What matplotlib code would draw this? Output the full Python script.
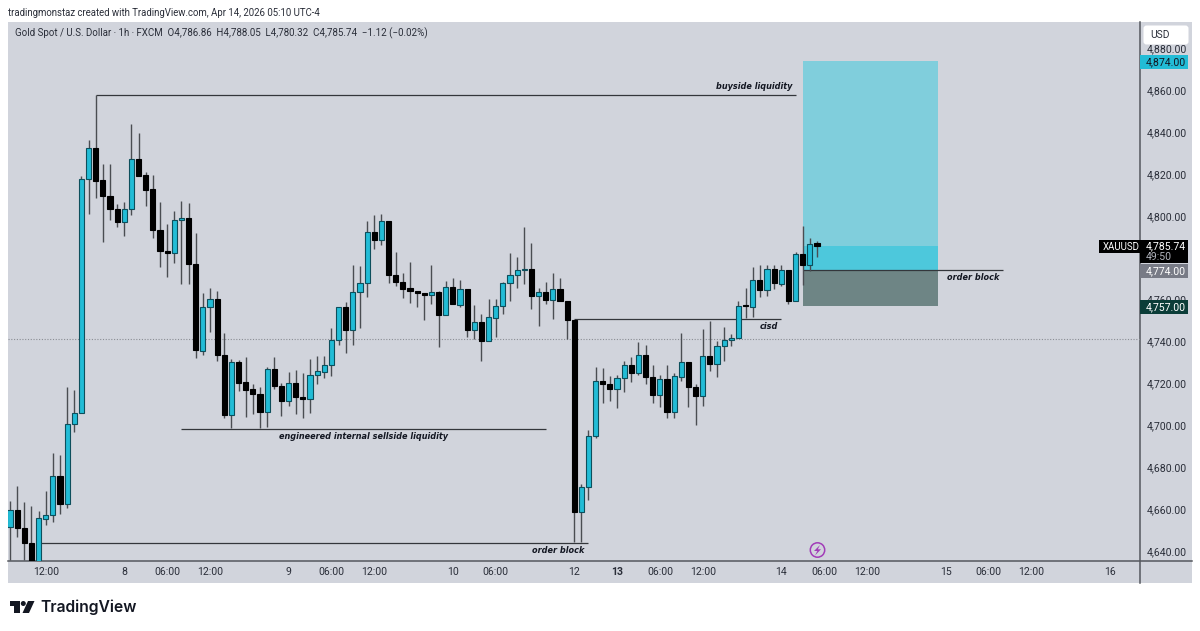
import matplotlib
matplotlib.use('Agg')
import matplotlib.pyplot as plt
from matplotlib.patches import Rectangle, Polygon, Circle, FancyBboxPatch

opens = [4651.5, 4659.6, 4651.0, 4643.8, 4633.3, 4655.3, 4657.2, 4675.8, 4662.4, 4700.6,
         4705.9, 4817.6, 4832.4, 4817.1, 4809.4, 4803.2, 4797.0, 4803.2, 4827.1, 4819.5,
         4812.8, 4793.2, 4783.2, 4782.2, 4798.0, 4799.0, 4777.0, 4735.5, 4756.5, 4760.3,
         4733.6, 4704.9, 4730.2, 4720.7, 4717.3, 4715.0, 4706.4, 4726.9, 4718.8, 4711.6,
         4720.2, 4713.5, 4712.6, 4724.0, 4725.4, 4728.8, 4740.7, 4756.5, 4745.5, 4763.6,
         4767.9, 4792.3, 4788.4, 4797.5, 4771.7, 4768.4, 4765.5, 4764.1, 4763.2, 4762.2,
         4763.6, 4752.6, 4766.0, 4757.4, 4765.1, 4745.5, 4749.3, 4740.2, 4751.2, 4757.0,
         4767.9, 4771.7, 4774.1, 4774.6, 4761.7, 4763.6, 4759.8, 4765.1, 4759.3, 4750.3,
         4658.6, 4670.6, 4694.9, 4721.1, 4719.7, 4717.3, 4722.6, 4728.8, 4725.0, 4733.6,
         4723.1, 4714.5, 4722.1, 4706.4, 4723.1, 4730.2, 4718.3, 4714.0, 4733.1, 4729.3,
         4737.9, 4740.7, 4741.7, 4757.4, 4756.5, 4769.4, 4764.6, 4774.6, 4767.4, 4774.1,
         4759.3, 4781.8, 4776.5, 4786.86]
highs = [4663.9, 4671.0, 4663.4, 4661.5, 4659.1, 4668.6, 4686.8, 4685.8, 4718.3, 4716.9,
         4819.0, 4836.2, 4857.7, 4824.7, 4824.7, 4805.6, 4806.6, 4843.8, 4839.5, 4820.9,
         4819.5, 4806.6, 4796.1, 4802.3, 4807.1, 4806.1, 4791.8, 4763.2, 4765.5, 4764.1,
         4744.1, 4731.6, 4731.2, 4732.6, 4719.7, 4718.3, 4727.8, 4732.6, 4720.2, 4725.4,
         4726.4, 4725.0, 4731.6, 4733.1, 4733.1, 4746.4, 4756.5, 4758.9, 4776.5, 4776.0,
         4797.5, 4800.4, 4800.9, 4797.5, 4782.7, 4772.7, 4778.0, 4764.1, 4763.2, 4776.5,
         4764.1, 4768.9, 4770.3, 4769.4, 4765.1, 4757.4, 4753.1, 4760.3, 4760.3, 4768.4,
         4782.2, 4780.3, 4794.7, 4787.0, 4765.5, 4768.4, 4772.7, 4770.3, 4759.3, 4750.3,
         4672.0, 4697.8, 4727.8, 4727.4, 4723.5, 4724.0, 4730.7, 4732.6, 4739.8, 4738.3,
         4728.8, 4724.0, 4728.8, 4725.0, 4744.1, 4730.2, 4719.7, 4746.0, 4749.8, 4740.2,
         4746.9, 4743.6, 4759.3, 4765.5, 4775.6, 4776.5, 4776.5, 4776.5, 4776.5, 4774.1,
         4782.7, 4795.1, 4789.4, 4788.05]
lows = [4635.7, 4646.7, 4635.7, 4628.5, 4628.5, 4652.4, 4653.9, 4657.7, 4660.5, 4696.8,
        4705.9, 4800.9, 4808.5, 4787.5, 4798.0, 4794.7, 4790.4, 4800.4, 4819.0, 4804.7,
        4789.4, 4775.6, 4770.8, 4777.5, 4767.4, 4767.4, 4732.1, 4733.6, 4744.5, 4730.7,
        4703.5, 4698.7, 4716.4, 4704.0, 4705.4, 4698.7, 4699.2, 4717.3, 4704.4, 4709.2,
        4705.4, 4703.5, 4705.9, 4719.7, 4722.6, 4723.5, 4738.3, 4734.5, 4738.3, 4746.4,
        4761.2, 4784.2, 4786.1, 4767.9, 4766.5, 4760.8, 4758.4, 4756.5, 4750.3, 4757.9,
        4737.4, 4752.6, 4757.9, 4756.5, 4742.1, 4741.2, 4730.7, 4740.2, 4742.1, 4753.1,
        4759.3, 4765.5, 4767.4, 4755.5, 4747.4, 4757.9, 4750.7, 4759.3, 4741.2, 4644.3,
        4644.3, 4664.3, 4693.9, 4710.6, 4711.6, 4708.3, 4715.9, 4720.7, 4724.0, 4719.7,
        4710.6, 4708.7, 4703.5, 4703.5, 4721.1, 4708.7, 4700.1, 4709.2, 4725.9, 4723.1,
        4730.7, 4737.9, 4741.7, 4751.2, 4751.7, 4761.2, 4761.7, 4765.1, 4766.5, 4757.9,
        4759.3, 4767.0, 4773.6, 4780.32]
closes = [4659.6, 4651.0, 4643.8, 4630.9, 4655.8, 4657.2, 4675.8, 4662.4, 4700.6, 4705.9,
          4817.6, 4832.4, 4816.6, 4809.4, 4803.2, 4797.0, 4803.2, 4827.1, 4819.0, 4812.3,
          4793.2, 4783.2, 4782.2, 4798.0, 4799.0, 4777.0, 4735.9, 4756.5, 4760.3, 4733.6,
          4704.9, 4730.2, 4720.2, 4716.9, 4715.0, 4706.4, 4726.9, 4718.8, 4711.6, 4720.2,
          4713.5, 4712.6, 4724.0, 4725.9, 4728.8, 4740.7, 4756.5, 4745.5, 4763.6, 4767.9,
          4792.3, 4788.4, 4797.5, 4771.7, 4768.4, 4765.1, 4764.1, 4763.2, 4762.2, 4763.6,
          4752.6, 4766.0, 4757.9, 4765.1, 4745.5, 4749.3, 4740.2, 4751.7, 4757.0, 4767.9,
          4771.7, 4774.1, 4774.6, 4761.7, 4763.6, 4759.8, 4765.1, 4759.3, 4750.3, 4658.6,
          4670.6, 4694.9, 4721.1, 4719.7, 4717.3, 4722.6, 4728.8, 4725.0, 4733.6, 4723.1,
          4714.5, 4722.1, 4706.4, 4723.5, 4730.2, 4718.3, 4714.0, 4733.1, 4729.3, 4737.9,
          4740.7, 4741.7, 4757.0, 4757.0, 4769.4, 4764.6, 4774.6, 4767.9, 4774.1, 4759.3,
          4781.8, 4776.5, 4786.5, 4785.74]

price_ticks = [4640, 4660, 4680, 4700, 4720, 4740, 4760, 4800, 4820, 4840, 4860, 4880]
time_ticks = [5, 16, 22, 28, 39, 45, 51, 62, 68, 79, 85, 91, 97, 108, 114, 120, 131, 137, 143, 154]
time_labels = ['12:00', '8', '06:00', '12:00', '9', '06:00', '12:00', '10', '06:00', '12', '13', '06:00',
               '12:00', '14', '06:00', '12:00', '15', '06:00', '12:00', '16']

target_price = 4874.0
entry_price = 4774.0
stop_price = 4757.0
last_price = 4785.74
prev_close = 4741.4
buyside_price = 4857.7
sellside_price = 4698.2
low_block_price = 4643.8
cisd_price = 4750.5

BG = '#D1D4DC'
BLUE = '#22BCD6'
EDGE = '#0D4F5C'
WICK = '#4A4D52'
LINE = '#55585E'
FONT = 'Roboto'

plt.rcParams['font.family'] = FONT
fig = plt.figure(figsize=(12, 6.31), dpi=100, facecolor='white')


def pixel_axes(zorder):
    a = fig.add_axes([0, 0, 1, 1], zorder=zorder)
    a.set_xlim(0, 1200)
    a.set_ylim(631, 0)
    a.axis('off')
    return a


back = pixel_axes(0)
back.add_patch(Rectangle((8, 22), 1184, 561, color=BG, lw=0))
# scale dividers run on past the plot area
back.plot([8, 1192], [561, 561], color=LINE, lw=1.1)
back.plot([1139.5, 1139.5], [22, 583], color=LINE, lw=1.1)

ax = fig.add_axes([8 / 1200, 1 - 561 / 631, 1131.5 / 1200, 539 / 631], zorder=1)
ax.patch.set_alpha(0)
ax.set_xlim(-0.28, 158.15)
ax.set_ylim(4635.2, 4892.5)
for side in ax.spines:
    ax.spines[side].set_visible(False)

# target and stop boxes
ax.add_patch(Rectangle((111, entry_price), 19, target_price - entry_price, color='#80CEDC', lw=0, zorder=1))
ax.add_patch(Rectangle((111, entry_price), 19, last_price - entry_price, color='#4DC8DC', lw=0, zorder=1.1))
ax.add_patch(Rectangle((111, stop_price), 19, entry_price - stop_price, color='#6E8585', lw=0, zorder=1))

ax.axhline(prev_close, color='#8A8D94', lw=0.8, ls=(0, (1, 1.5)), zorder=1)

# annotation lines
ax.hlines(buyside_price, 12, 110, color='#33363B', lw=0.9, zorder=2)
ax.hlines(sellside_price, 24, 75, color='#33363B', lw=0.9, zorder=2)
ax.hlines(low_block_price, 4, 81, color='#33363B', lw=0.9, zorder=2)
ax.hlines(cisd_price, 79, 108, color='#33363B', lw=0.9, zorder=2)
ax.hlines(entry_price, 111, 139, color='#33363B', lw=0.9, zorder=1.2)

x = list(range(len(opens)))
colors = [BLUE if c >= o else 'black' for o, c in zip(opens, closes)]
edges = [EDGE if c >= o else 'black' for o, c in zip(opens, closes)]
ax.vlines(x, lows, highs, color=WICK, lw=1.0, zorder=3)
ax.bar(x, [abs(c - o) for o, c in zip(opens, closes)], bottom=[min(o, c) for o, c in zip(opens, closes)],
       width=0.72, color=colors, edgecolor=edges, linewidth=0.8, zorder=4)

note = dict(family='DejaVu Sans', fontsize=5.9, fontweight='bold', style='italic', color='#131722',
            ha='center', va='center', zorder=5)
ax.text(104.2, buyside_price + 4.2, 'buyside liquidity', **note)
ax.text(49.5, sellside_price - 3.4, 'engineered internal sellside liquidity', **note)
ax.text(76.8, low_block_price - 3.4, 'order block', **note)
ax.text(106.3, cisd_price - 3.4, 'cisd', **note)
ax.text(134.8, entry_price - 3.4, 'order block', **note)

ax.yaxis.tick_right()
ax.set_yticks(price_ticks)
ax.set_yticklabels([f'{p:,.2f}' for p in price_ticks], fontsize=7.6, color='#2A2E39')
ax.tick_params(axis='y', length=0, pad=5)
for label in ax.get_yticklabels():
    label.set_verticalalignment('center_baseline')
ax.set_xticks(time_ticks)
ax.set_xticklabels(time_labels, fontsize=7.6, color='#2A2E39')
ax.tick_params(axis='x', length=0, pad=4.5)
for label in ax.get_xticklabels():
    if label.get_text() == '13':
        label.set_fontweight('bold')

top = pixel_axes(2)
top.add_patch(Circle((817.5, 550), 7.2, fc=BG, ec='#A23CB8', lw=1.1))
top.add_patch(Polygon([(820, 545), (814, 551), (817.3, 551), (815, 555.5), (821, 549.3), (817.8, 549.3)], color='#A23CB8', lw=0))

# header text
top.text(8, 12.5, 'tradingmonstaz created with TradingView.com, Apr 14, 2026 05:10 UTC-4',
         fontsize=6.95, color='#2A2E39', va='center')
top.text(15, 33.5, 'Gold Spot / U.S. Dollar · 1h · FXCM  O4,786.86  H4,788.05  L4,780.32  C4,785.74  −1.12 (−0.02%)',
         fontsize=7.0, color='#2A2E39', va='center')

# price scale labels
top.add_patch(FancyBboxPatch((1145, 27), 42, 16, boxstyle='round,pad=1.5,rounding_size=3', fc='white', ec='none'))
top.text(1150, 35, 'USD', fontsize=7.4, color='#2A2E39', va='center')
top.add_patch(Rectangle((1140, 55), 48, 14, color=BLUE, lw=0))
top.text(1146, 62, f'{target_price:,.2f}', fontsize=7.6, color='#131722', va='center')
top.add_patch(Rectangle((1099, 240), 41, 12.5, color='black', lw=0))
top.text(1103, 246.5, 'XAUUSD', fontsize=6.9, color='white', va='center')
top.add_patch(Rectangle((1140, 240), 48, 23, color='black', lw=0))
top.text(1146, 246.5, f'{last_price:,.2f}', fontsize=7.6, color='white', va='center')
top.text(1146, 257, '49:50', fontsize=7.6, color='#B2B5BE', va='center')
top.add_patch(Rectangle((1140, 264), 48, 14, color='#787B86', lw=0))
top.text(1146, 271, f'{entry_price:,.2f}', fontsize=7.6, color='white', va='center')
top.add_patch(Rectangle((1140, 300), 48, 14, color='#0B3D38', lw=0))
top.text(1146, 307, f'{stop_price:,.2f}', fontsize=7.6, color='white', va='center')

# TradingView logo
top.add_patch(Polygon([(10, 601), (20, 601), (20, 613), (14, 613), (14, 606), (10, 606)], color='#131722', lw=0))
top.add_patch(Circle((23.3, 603.5), 2.5, color='#131722', lw=0))
top.add_patch(Polygon([(28, 601), (34.5, 601), (29, 613), (22.5, 613)], color='#131722', lw=0))
top.text(40, 607, 'TradingView', family='Inter', fontsize=11.3, fontweight='semibold', color='#131722', va='center')

fig.savefig('out.png', dpi=100)
